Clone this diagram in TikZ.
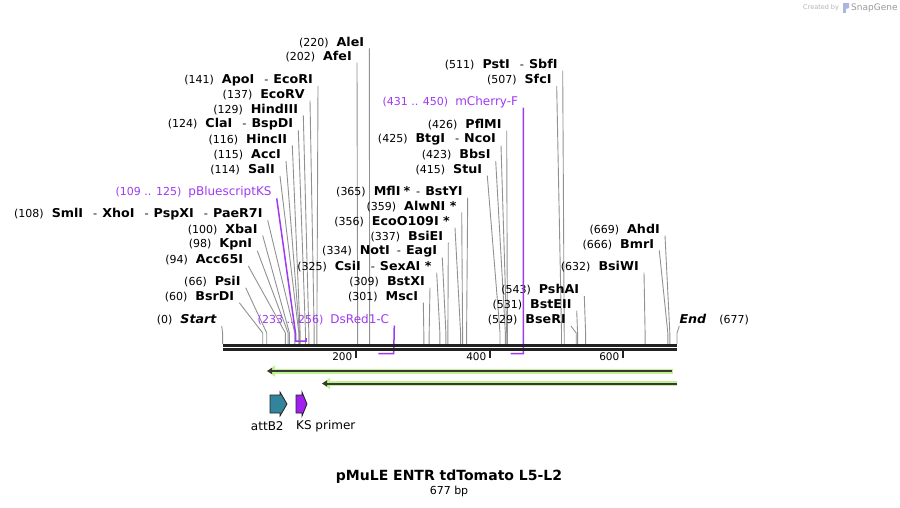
\documentclass[tikz,border=0pt]{standalone}
\usepackage{fontspec}
\setmainfont{DejaVu Sans}
\newfontfamily\namfam{DejaVu Sans}[FakeStretch=1.04]
\usetikzlibrary{arrows.meta}
\definecolor{prim}{RGB}{158,58,240}
\definecolor{primfill}{RGB}{160,32,240}
\definecolor{attb}{RGB}{49,132,155}
\definecolor{glow}{RGB}{192,242,145}
\definecolor{barc}{RGB}{34,34,34}
\definecolor{leadc}{RGB}{145,145,145}
\newcommand{\numf}{\fontsize{11}{13}\selectfont\mdseries}
\newcommand{\namf}{\namfam\fontsize{12.2}{14}\selectfont\bfseries}
\newcommand{\featf}{\fontsize{12}{14}\selectfont\mdseries}
\newcommand{\enz}[2]{{\numf(#1)}\hspace{8pt}{\namf #2}}
\newcommand{\sepd}{\hspace{10pt}{\numf -}\hspace{5pt}}
\newcommand{\sepn}{\hspace{7pt}{\numf -}\hspace{5pt}}
\newcommand{\site}[5]{%
  \node[lab] (#1) at (#2,#3) {#5};
  \coordinate (#1c) at ({222.6+0.6685*#4},344);
  \draw[leader] ([xshift=5pt,yshift=-6pt]#1.east) -- ({222.6+0.6685*#4},333) -- (#1c);
}
\begin{document}
\begin{tikzpicture}[x=1pt,y=-1pt,
  lab/.style={inner sep=0pt,anchor=east,text=black},
  featlab/.style={inner sep=0pt,anchor=east,text=prim},
  leader/.style={draw=leadc,line width=0.9pt},
  primline/.style={draw=prim,line width=1.5pt},
  tick/.style={draw=barc,line width=2pt},
  ticklab/.style={inner sep=0pt,anchor=east,font=\fontsize{10.5}{12}\selectfont},
  arrowglow/.style={draw=glow,line width=5pt,-{Triangle[length=8pt,width=11pt]}},
  arrowline/.style={draw=barc!90,line width=2pt,-{Triangle[length=5pt,width=6pt]}},
  featbox/.style={draw=barc,line width=0.8pt}]
\useasboundingbox (0,0) rectangle (900,507);

% ---- enzyme sites, left cluster
\site{aleI}{364.3}{42.3}{220}{\enz{220}{AleI}}
\site{afeI}{352}{56.7}{202}{\enz{202}{AfeI}}
\site{apoI}{313}{80}{141}{\enz{141}{ApoI\sepd EcoRI}}
\site{ecoRV}{305}{94.5}{137}{\enz{137}{EcoRV}}
\site{hindIII}{298.3}{109.5}{129}{\enz{129}{HindIII}}
\site{claI}{293.3}{124.5}{124}{\enz{124}{ClaI\sepd BspDI}}
\site{hincII}{287.3}{139.5}{116}{\enz{116}{HincII}}
\site{accI}{281}{155}{115}{\enz{115}{AccI}}
\site{salI}{275}{170}{114}{\enz{114}{SalI}}
\site{smlI}{262.7}{214.3}{108}{\enz{108}{SmlI\sepd XhoI\sepd PspXI\sepd PaeR7I}}
\site{xbaI}{257.7}{229.5}{100}{\enz{100}{XbaI}}
\site{kpnI}{252.3}{244.8}{98}{\enz{98}{KpnI}}
\site{accsf}{243.3}{260}{94}{\enz{94}{Acc65I}}
\site{psiI}{240.7}{281.7}{66}{\enz{66}{PsiI}}
\site{bsrDI}{234.3}{296.7}{60}{\enz{60}{BsrDI}}
\site{start}{216.7}{320}{0}{\enz{0}{\itshape Start}}

% ---- middle cluster
\site{mflI}{462.7}{191.7}{365}{\enz{365}{MflI\hspace{3pt}*\hspace{6pt}{\numf -}\hspace{5pt}BstYI}}
\site{alwNI}{456.7}{206.3}{359}{\enz{359}{AlwNI *}}
\site{ecoO}{450}{221.7}{356}{\enz{356}{EcoO109I *}}
\site{bsiEI}{443.3}{236.7}{337}{\enz{337}{BsiEI}}
\site{notI}{437.3}{251.7}{334}{\enz{334}{NotI\sepn EagI}}
\site{csiI}{431.7}{266.7}{325}{\enz{325}{CsiI\sepd SexAI *}}
\site{bstXI}{425}{281.7}{309}{\enz{309}{BstXI}}
\site{mscI}{418.3}{296.7}{301}{\enz{301}{MscI}}

% ---- right cluster
\site{pstI}{557.7}{64.5}{511}{\enz{511}{PstI\sepd SbfI}}
\site{sfcI}{551.7}{80}{507}{\enz{507}{SfcI}}
\site{pflMI}{501.7}{124.5}{426}{\enz{426}{PflMI}}
\site{btgI}{496}{139.5}{425}{\enz{425}{BtgI\sepd NcoI}}
\site{bbsI}{490.7}{155}{423}{\enz{423}{BbsI}}
\site{stuI}{482.3}{169.7}{415}{\enz{415}{StuI}}
\site{pshAI}{579.3}{290}{543}{\enz{543}{PshAI}}
\site{bstEII}{571.7}{304.7}{531}{\enz{531}{BstEII}}
\site{bseRI}{566}{320}{529}{\enz{529}{BseRI}}
\site{bsiWI}{639}{266.7}{632}{\enz{632}{BsiWI}}
\site{ahdI}{660}{229.7}{669}{\enz{669}{AhdI}}
\site{bmrI}{654.3}{244.5}{666}{\enz{666}{BmrI}}

% ---- End
\node[inner sep=0pt,anchor=west] (endl) at (679.3,320) {{\namf\itshape End}\hspace{13pt}{\numf(677)}};
\coordinate (endc) at (677,344);
\draw[leader] ([yshift=-6pt]endl.west) -- (677,333) -- (endc);

% ---- primer labels
\node[featlab] (pbs) at (271.7,192.3) {{\numf(109 .. 125)}\hspace{7pt}{\featf pBluescriptKS}};
\coordinate (pbsc) at (306.2,341);
\draw[primline] ([xshift=5pt,yshift=-6pt]pbs.east) -- (295.5,333) -- (295.5,341) -- (pbsc) -- (306.2,338);

\node[featlab] (dsr) at (389.3,319.5) {{\numf(233 .. 256)}\hspace{7pt}{\featf DsRed1-C}};
\coordinate (dsrc) at (378.4,353.5);
\draw[primline] ([xshift=5pt,yshift=-6pt]dsr.east) -- (393.7,353.5) -- (dsrc);

\node[featlab] (mch) at (518.3,101.7) {{\numf(431 .. 450)}\hspace{7pt}{\featf mCherry-F}};
\coordinate (mchc) at (510.7,353.5);
\draw[primline] ([xshift=5pt,yshift=-6pt]mch.east) -- (523.4,353.5) -- (mchc);

% ---- sequence bar
\coordinate (b0) at (223,345.3);
\coordinate (b1) at (677,345.3);
\coordinate (b2) at (223,349.4);
\coordinate (b3) at (677,349.4);
\draw[barc,line width=2.7pt] (b0) -- (b1);
\draw[barc,line width=2.7pt] (b2) -- (b3);

% ---- ticks
\coordinate (t2) at (356,350.7);
\coordinate (t4) at (490,350.7);
\coordinate (t6) at (623,350.7);
\draw[tick] (t2) -- ++(0,6.8);
\draw[tick] (t4) -- ++(0,6.8);
\draw[tick] (t6) -- ++(0,6.8);
\node[ticklab] (l2) at (352.5,357) {200};
\node[ticklab] (l4) at (486.5,357) {400};
\node[ticklab] (l6) at (619.5,357) {600};

% ---- green feature arrows
\coordinate (g1a) at (673,371);
\coordinate (g1b) at (267,371);
\coordinate (g2a) at (677,383.5);
\coordinate (g2b) at (322,383.5);
\draw[arrowglow] (g1a) -- (g1b);
\draw[arrowline] (672,371) -- (g1b);
\draw[arrowglow] (g2a) -- (g2b);
\draw[arrowline] (677,383.5) -- (g2b);

% ---- features
\draw[featbox,fill=attb] (270,395) -- (280,395) -- (280,392) -- (287,404) -- (280,416) -- (280,413) -- (270,413) -- cycle;
\draw[featbox,fill=primfill] (296,395) -- (302,395) -- (302,392) -- (307,404) -- (302,416) -- (302,413) -- (296,413) -- cycle;
\node[inner sep=0pt,font=\featf] (attb2) at (267.3,425.7) {attB2};
\node[inner sep=0pt,anchor=west,font=\featf] (ksp) at (296,425.7) {KS primer};

% ---- title
\node[inner sep=0pt,font=\fontsize{14}{16}\selectfont\bfseries] (title) at (449,476.5) {pMuLE ENTR tdTomato L5-L2};
\node[inner sep=0pt,font=\fontsize{11}{13}\selectfont] (size) at (449,491.7) {677 bp};

% ---- credit
\node[inner sep=0pt,anchor=west,text=black!30,font=\fontsize{6.5}{8}\selectfont] (cr) at (803,8) {Created by};
\fill[cyan!40!blue!35] (842.5,3) rectangle (845.5,13);
\fill[cyan!40!blue!35] (845.5,3) -- (849,3) -- (849,8) -- (845.5,9) -- cycle;
\node[inner sep=0pt,anchor=west,text=black!40,font=\fontsize{9}{10}\selectfont] (sg) at (851,8) {SnapGene};
\end{tikzpicture}
\end{document}
